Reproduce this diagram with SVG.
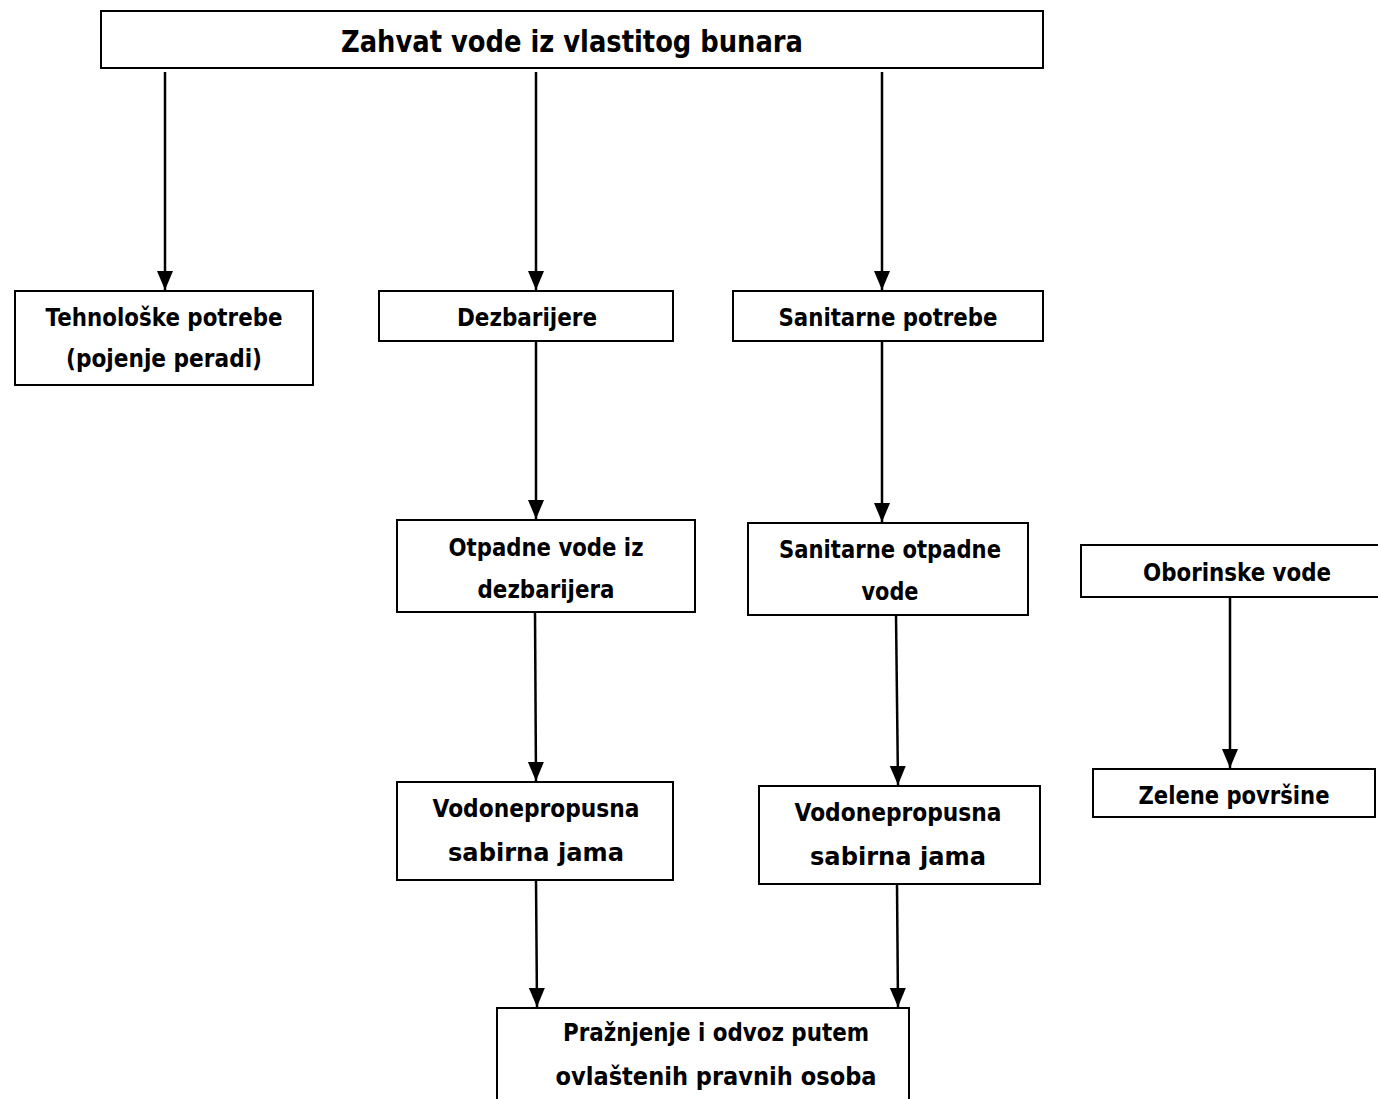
<svg xmlns="http://www.w3.org/2000/svg" width="1378" height="1099" viewBox="0 0 1378 1099">
<style>
.box{fill:#fff;stroke:#000;stroke-width:2}
.t{font-family:"DejaVu Sans","Liberation Sans",sans-serif;font-weight:bold;font-size:24px;fill:#000;text-anchor:middle}
.title{font-size:31px}
.c{stroke:#000;stroke-width:2.5;fill:none;marker-end:url(#ah)}
</style>
<defs>
<marker id="ah" markerUnits="userSpaceOnUse" markerWidth="20" markerHeight="18" refX="19" refY="8" orient="auto" viewBox="0 0 20 16">
<path d="M0,0 L19,8 L0,16 Z" fill="#000"/>
</marker>
</defs>
<rect width="1378" height="1099" fill="#fff"/>
<g id="connectors">
<path class="c" d="M165,72 L165,290"/>
<path class="c" d="M536,72 L536,290"/>
<path class="c" d="M882,72 L882,290"/>
<path class="c" d="M536,341 L536,519"/>
<path class="c" d="M882,341 L882,522"/>
<path class="c" d="M535,612 L536,781"/>
<path class="c" d="M896,615 L898,785"/>
<path class="c" d="M1230,597 L1230,768"/>
<path class="c" d="M536,880 L537,1007"/>
<path class="c" d="M897,884 L898,1007"/>
</g>
<g id="n-zahvat">
<rect class="box" x="101" y="11" width="942" height="57"/>
<text class="t title" x="572" y="52" textLength="462" lengthAdjust="spacingAndGlyphs">Zahvat vode iz vlastitog bunara</text>
</g>
<g id="n-tehnoloske">
<rect class="box" x="15" y="291" width="298" height="94"/>
<text class="t" x="164" y="326" textLength="237" lengthAdjust="spacingAndGlyphs">Tehnološke potrebe</text>
<text class="t" x="164" y="367" textLength="196" lengthAdjust="spacingAndGlyphs">(pojenje peradi)</text>
</g>
<g id="n-dezbarijere">
<rect class="box" x="379" y="291" width="294" height="50"/>
<text class="t" x="527" y="326" textLength="140" lengthAdjust="spacingAndGlyphs">Dezbarijere</text>
</g>
<g id="n-sanitarne">
<rect class="box" x="733" y="291" width="310" height="50"/>
<text class="t" x="888" y="326" textLength="219" lengthAdjust="spacingAndGlyphs">Sanitarne potrebe</text>
</g>
<g id="n-otpadne">
<rect class="box" x="397" y="520" width="298" height="92"/>
<text class="t" x="546" y="556" textLength="195" lengthAdjust="spacingAndGlyphs">Otpadne vode iz</text>
<text class="t" x="546" y="598" textLength="137" lengthAdjust="spacingAndGlyphs">dezbarijera</text>
</g>
<g id="n-sanotpadne">
<rect class="box" x="748" y="523" width="280" height="92"/>
<text class="t" x="890" y="558" textLength="222" lengthAdjust="spacingAndGlyphs">Sanitarne otpadne</text>
<text class="t" x="890" y="600" textLength="57" lengthAdjust="spacingAndGlyphs">vode</text>
</g>
<g id="n-oborinske">
<rect class="box" x="1081" y="545" width="300" height="52"/>
<text class="t" x="1237" y="581" textLength="188" lengthAdjust="spacingAndGlyphs">Oborinske vode</text>
</g>
<g id="n-zelene">
<rect class="box" x="1093" y="769" width="282" height="48"/>
<text class="t" x="1234" y="804" textLength="191" lengthAdjust="spacingAndGlyphs">Zelene površine</text>
</g>
<g id="n-vodo1">
<rect class="box" x="397" y="782" width="276" height="98"/>
<text class="t" x="536" y="817" textLength="207" lengthAdjust="spacingAndGlyphs">Vodonepropusna</text>
<text class="t" x="536" y="861" textLength="176" lengthAdjust="spacingAndGlyphs">sabirna jama</text>
</g>
<g id="n-vodo2">
<rect class="box" x="759" y="786" width="281" height="98"/>
<text class="t" x="898" y="821" textLength="207" lengthAdjust="spacingAndGlyphs">Vodonepropusna</text>
<text class="t" x="898" y="865" textLength="176" lengthAdjust="spacingAndGlyphs">sabirna jama</text>
</g>
<g id="n-praznjenje">
<rect class="box" x="497" y="1008" width="412" height="100"/>
<text class="t" x="716" y="1041" textLength="306" lengthAdjust="spacingAndGlyphs">Pražnjenje i odvoz putem</text>
<text class="t" x="716" y="1085" textLength="321" lengthAdjust="spacingAndGlyphs">ovlaštenih pravnih osoba</text>
</g>
</svg>
